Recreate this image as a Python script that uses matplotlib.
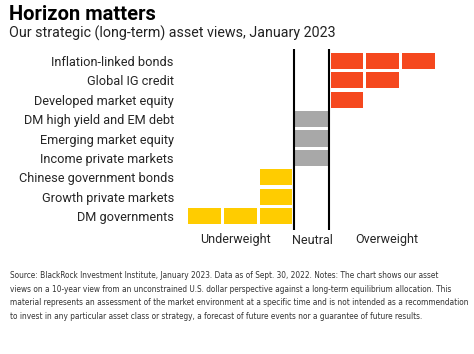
import matplotlib.pyplot as plt

assets = [
    "Inflation-linked bonds",
    "Global IG credit",
    "Developed market equity",
    "DM high yield and EM debt",
    "Emerging market equity",
    "Income private markets",
    "Chinese government bonds",
    "Growth private markets",
    "DM governments",
]
# +n overweight, 0 neutral, -n underweight (number of blocks)
views = [3, 2, 1, 0, 0, 0, -1, -1, -3]
view_labels = ["Underweight", "Neutral", "Overweight"]

title = "Horizon matters"
subtitle = "Our strategic (long-term) asset views, January 2023"
note = (
    "Source: BlackRock Investment Institute, January 2023. Data as of Sept. 30, 2022. Notes: The chart shows our asset\n"
    "views on a 10-year view from an unconstrained U.S. dollar perspective against a long-term equilibrium allocation. This\n"
    "material represents an assessment of the market environment at a specific time and is not intended as a recommendation\n"
    "to invest in any particular asset class or strategy, a forecast of future events nor a guarantee of future results."
)

ORANGE = "#F5481E"
GREY = "#A8A8A8"
YELLOW = "#FFCC00"

plt.rcParams["font.family"] = ["Roboto", "DejaVu Sans"]

fig = plt.figure(figsize=(4.74, 3.54), dpi=100)
W, H = 474, 354
ax = fig.add_axes([187 / W, 1 - 230 / H, (436 - 187) / W, (230 - 49) / H])

bw, gap, bh = 0.92, 0.04, 0.83
for i, v in enumerate(views):
    if v > 0:
        lefts, c = [1 + k for k in range(v)], ORANGE
    elif v < 0:
        lefts, c = [-1 - k for k in range(-v)], YELLOW
    else:
        lefts, c = [0], GREY
    ax.barh([i] * len(lefts), bw, left=[l + gap for l in lefts], height=bh, color=c)

ax.axvline(0, color="black", lw=1.5, zorder=3)
ax.axvline(1, color="black", lw=1.5, zorder=3)

ax.set_xlim(-3, 4)
ax.set_ylim(len(assets) - 1 + 0.72, -0.62)
ax.set_yticks(range(len(assets)))
ax.set_yticklabels(assets, fontsize=9.2, color="#262626")
ax.tick_params(axis="y", length=0, pad=9.5)
ax.set_xticks([])
for s in ax.spines.values():
    s.set_visible(False)

for x, lab in zip([-1.65, 0.52, 2.62], view_labels):
    ax.annotate(lab, xy=(x, 0), xycoords=("data", "axes fraction"),
                xytext=(0, -10), textcoords="offset pixels",
                ha="center", va="center", fontsize=9, color="#262626")

fig.text(9 / W, 1 - 15 / H, title, fontsize=14.5, fontweight="bold", va="center", ha="left")
fig.text(9 / W, 1 - 33 / H, subtitle, fontsize=10.3, va="center", ha="left", color="#222222")
fig.text(10 / W, 1 - 271 / H, note, fontsize=5.95, va="top", ha="left",
         family="DejaVu Sans", fontstretch="condensed", color="#333333",
         linespacing=1.65)

fig.savefig("out.png", dpi=100)
